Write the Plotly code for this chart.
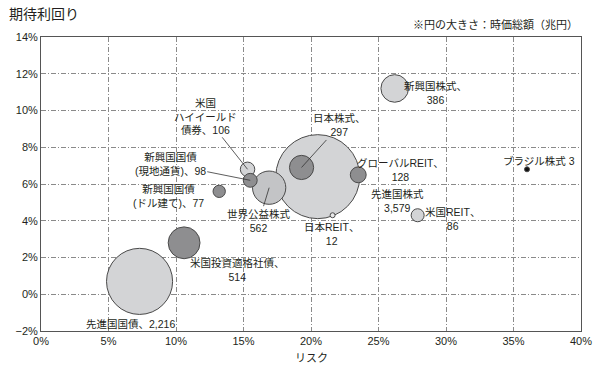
import plotly.graph_objects as go

# ---- data ----
names = ["先進国国債", "米国投資適格社債", "新興国国債(ドル建て)", "新興国国債(現地通貨)",
         "米国ハイイールド債券", "世界公益株式", "先進国株式", "日本株式", "グローバルREIT",
         "日本REIT", "米国REIT", "新興国株式", "ブラジル株式"]
risk = [7.3, 10.6, 13.2, 15.5, 15.3, 16.9, 20.5, 19.3, 23.5, 21.6, 27.9, 26.2, 36.0]
expected_return = [0.7, 2.8, 5.6, 6.2, 6.8, 5.8, 6.4, 6.9, 6.5, 4.3, 4.3, 11.2, 6.8]
market_cap = [2216, 514, 77, 98, 106, 562, 3579, 297, 128, 12, 86, 386, 3]
label_text = ["先進国国債、{v}", "米国投資適格社債、<br>{v}", "新興国国債<br>(ドル建て)、{v}",
              "新興国国債<br>(現地通貨)、{v}", "米国<br>ハイイールド<br>債券、{v}", "世界公益株式<br>{v}",
              "先進国株式<br>{v}", "日本株式、<br>{v}", "グローバルREIT、<br>{v}", "日本REIT、<br>{v}",
              "米国REIT、<br>{v}", "新興国株式、<br>{v}", "ブラジル株式 {v}"]
x_ticks = [0, 5, 10, 15, 20, 25, 30, 35, 40]
x_tick_labels = ["0%", "5%", "10%", "15%", "20%", "25%", "30%", "35%", "40%"]
y_ticks = [-2, 0, 2, 4, 6, 8, 10, 12, 14]
y_tick_labels = ["−2%", "0%", "2%", "4%", "6%", "8%", "10%", "12%", "14%"]

# ---- styles (not data) ----
LIGHT, MID, DARK, PALE = "#d3d4d6", "#c3c4c6", "#8e8e90", "#e9e9ea"
fill = {"先進国国債": LIGHT, "米国投資適格社債": DARK, "新興国国債(ドル建て)": DARK,
        "新興国国債(現地通貨)": DARK, "米国ハイイールド債券": LIGHT, "世界公益株式": MID,
        "先進国株式": LIGHT, "日本株式": DARK, "グローバルREIT": DARK, "日本REIT": PALE,
        "米国REIT": LIGHT, "新興国株式": LIGHT, "ブラジル株式": "#111111"}
# label offsets in pixels (dx right, dy down), arrow flag
label_pos = {"先進国国債": (-9, 43, False), "米国投資適格社債": (53, 27, False),
             "新興国国債(ドル建て)": (-51, 5, False), "新興国国債(現地通貨)": (-80, -16, True),
             "米国ハイイールド債券": (-42, -53, True), "世界公益株式": (-10, 33, True),
             "先進国株式": (80, 24, False), "日本株式": (38, -42, True),
             "グローバルREIT": (42, -5, False), "日本REIT": (-1, 19, False),
             "米国REIT": (35, 4, False), "新興国株式": (41, 5, False),
             "ブラジル株式": (12, -8, False)}

TXT = "#231f20"
FONT = "Liberation Sans, Noto Sans CJK JP, sans-serif"

order = sorted(range(len(names)), key=lambda i: -market_cap[i])
max_diam = 84

fig = go.Figure()
fig.add_trace(go.Scatter(
    x=[risk[i] for i in order],
    y=[expected_return[i] for i in order],
    mode="markers",
    marker=dict(
        size=[market_cap[i] for i in order],
        sizemode="area",
        sizeref=2 * max(market_cap) / max_diam ** 2,
        sizemin=2.5,
        color=[fill[names[i]] for i in order],
        line=dict(color="#4a4a4a", width=1),
        opacity=1,
    ),
    hovertext=[names[i] for i in order],
    showlegend=False,
))

annotations = []
for i, n in enumerate(names):
    dx, dy, arrow = label_pos[n]
    txt = label_text[i].format(v=f"{market_cap[i]:,}")
    a = dict(x=risk[i], y=expected_return[i], xref="x", yref="y", text=txt,
             font=dict(family=FONT, size=10.5, color=TXT), align="center")
    if arrow:
        a.update(showarrow=True, ax=dx, ay=dy, arrowhead=0, arrowwidth=0.8,
                 arrowcolor="#333333", standoff=0)
    else:
        a.update(showarrow=False, xshift=dx, yshift=-dy)
    annotations.append(a)

annotations += [
    dict(text="期待利回り", xref="paper", yref="paper", x=-0.063, y=1.082,
         xanchor="left", yanchor="middle", showarrow=False,
         font=dict(family="Noto Sans CJK JP", size=14, color=TXT)),
    dict(text="※円の大きさ：時価総額（兆円）", xref="paper", yref="paper", x=0.998, y=1.044,
         xanchor="right", yanchor="middle", showarrow=False,
         font=dict(family="Noto Sans CJK JP", size=11, color=TXT)),
    dict(text="リスク", xref="paper", yref="paper", x=0.5, y=-0.09,
         xanchor="center", yanchor="middle", showarrow=False,
         font=dict(family="Noto Sans CJK JP", size=11, color=TXT)),
]

axis_common = dict(showline=True, linecolor="#555555", linewidth=1, mirror=True,
                   showgrid=True, gridcolor="#8a8a8a", gridwidth=1,
                   griddash="5px,2px,1px,2px", zeroline=False, ticks="",
                   tickfont=dict(family=FONT, size=11, color=TXT))

fig.update_xaxes(range=[0, 40], tickvals=x_ticks, ticktext=x_tick_labels, **axis_common)
fig.update_yaxes(range=[-2, 14], tickvals=y_ticks, ticktext=y_tick_labels, **axis_common)

fig.update_layout(
    width=600, height=370,
    margin=dict(l=41, r=19, t=37, b=39, autoexpand=False),
    paper_bgcolor="white", plot_bgcolor="white",
    annotations=annotations,
    font=dict(family=FONT, color=TXT),
)

# remove the default 8px body margin so the figure fills the 600x370 window
fig.write_html("out.html",
               config={"displayModeBar": False},
               post_script="document.body.style.margin='0';document.body.style.overflow='hidden';")
